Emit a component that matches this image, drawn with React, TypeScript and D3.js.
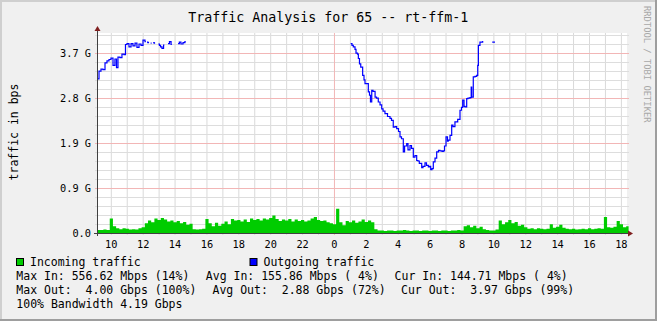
import React from "react";
import * as d3 from "d3";

// ---------- data ----------
const TITLE = "Traffic Analysis for 65 -- rt-ffm-1";
const Y_LABEL = "traffic in bps";
const WATERMARK = "RRDTOOL / TOBI OETIKER";

// time axis in hours since midnight of day 1 (24 = next midnight)
const T_START = 9.134;
const T_END = 42.384;
const Y_MAX = 4.138; // Gbps at top of canvas
const Y_TICK_STEP = 0.9311; // 4.19 G / 4.5
const HOUR_LINES = d3.range(10, 43);
const HOUR_LABELS = [10, 12, 14, 16, 18, 20, 22, 24, 26, 28, 30, 32, 34, 36, 38, 40, 42];

// incoming traffic (Gbps), one value every IN_STEP hours starting at T_START
const IN_STEP = 0.2;
const inValues = [
  0.06, 0.06, 0.07, 0.06, 0.30, 0.14, 0.10, 0.08, 0.10, 0.09,
  0.07, 0.08, 0.07, 0.10, 0.12, 0.20, 0.26, 0.22, 0.30, 0.27,
  0.31, 0.28, 0.24, 0.26, 0.22, 0.25, 0.20, 0.23, 0.17, 0.19,
  0.08, 0.07, 0.08, 0.09, 0.29, 0.20, 0.14, 0.21, 0.15, 0.19,
  0.24, 0.18, 0.29, 0.26, 0.27, 0.24, 0.28, 0.23, 0.30, 0.27,
  0.29, 0.26, 0.30, 0.28, 0.31, 0.36, 0.29, 0.25, 0.28, 0.26,
  0.29, 0.24, 0.28, 0.25, 0.27, 0.24, 0.26, 0.30, 0.33, 0.27,
  0.25, 0.26, 0.22, 0.20, 0.18, 0.50, 0.22, 0.16, 0.25, 0.22,
  0.26, 0.21, 0.24, 0.28, 0.23, 0.26, 0.22, 0.08, 0.05, 0.05,
  0.04, 0.05, 0.05, 0.04, 0.05, 0.05, 0.06, 0.05, 0.04, 0.05,
  0.05, 0.04, 0.05, 0.05, 0.04, 0.05, 0.05, 0.04, 0.05, 0.05,
  0.04, 0.05, 0.05, 0.06, 0.05, 0.14, 0.16, 0.12, 0.15, 0.10,
  0.13, 0.08, 0.06, 0.05, 0.05, 0.07, 0.26, 0.18, 0.22, 0.27,
  0.20, 0.23, 0.15, 0.17, 0.12, 0.09, 0.10, 0.08, 0.10, 0.09,
  0.08, 0.09, 0.18, 0.11, 0.13, 0.17, 0.11, 0.09, 0.08, 0.09,
  0.07, 0.08, 0.09, 0.08, 0.10, 0.08, 0.09, 0.10, 0.09, 0.33,
  0.12, 0.11, 0.13, 0.25, 0.18, 0.12, 0.14,
];

// outgoing traffic (Gbps); null = no data
const outTimes = [
  9.178, 9.26, 9.385, 9.51, 9.636, 9.76, 9.887, 10.01, 10.138, 10.26,
  10.357, 10.45, 10.577, 10.7, 10.83, 10.92, 11.016, 11.14, 11.27, 11.39,
  11.52, 11.64, 11.77, 11.895, 12.02, 12.145, 12.2, 12.23,
  12.27, 12.33, 12.4, 12.45,
  12.5, 12.56, 12.6,
  12.66, 12.72, 12.78, 12.85,
  12.98, 13.05, 13.12, 13.21, 13.31, 13.36, 13.45,
  13.59, 13.68, 13.78, 13.83, 13.95,
  14.22, 14.3, 14.4, 14.53, 14.65, 14.7, 14.8,
  25.05, 25.13, 25.213, 25.32, 25.383, 25.477, 25.53, 25.6, 25.68, 25.8,
  25.885, 25.947, 26.05, 26.155, 26.23, 26.29, 26.37, 26.45, 26.58, 26.67,
  26.78, 26.89, 26.995, 27.08, 27.2, 27.36, 27.515, 27.61, 27.72, 27.83,
  27.935, 28.05, 28.143, 28.237, 28.35, 28.43, 28.563, 28.645, 28.77, 28.865,
  28.978, 29.08, 29.19, 29.27, 29.354, 29.505, 29.586, 29.71, 29.805, 29.92,
  29.993, 30.068, 30.15, 30.232, 30.34, 30.445, 30.557, 30.65, 30.78, 30.86,
  30.935, 31.03, 31.122, 31.17, 31.28, 31.386, 31.467, 31.59, 31.763, 31.907,
  32.0, 32.076, 32.16, 32.22, 32.327, 32.41, 32.534, 32.61, 32.64, 32.74,
  32.85, 32.955, 33.02, 33.06, 33.16, 33.33, 33.5,
  33.93, 34.1,
];
const outValues = [
  3.19, 3.35, 3.39, 3.38, 3.52, 3.56, 3.59, 3.62, 3.47, 3.6,
  3.42, 3.64, 3.63, 3.7, 3.69, 3.9, 3.92, 3.85, 3.92, 3.87,
  3.93, 3.84, 3.91, 3.88, 3.99, 3.96, 3.96, null,
  3.95, 3.94, 3.94, null,
  3.93, 3.93, null,
  3.94, 3.93, 3.93, null,
  3.91, 3.88, 3.85, 3.82, 3.89, 3.89, null,
  3.92, 3.96, 3.9, 3.9, null,
  3.92, 3.95, 3.91, 3.94, 3.96, 3.96, null,
  3.92, 3.88, 3.85, 3.8, 3.72, 3.7, 3.61, 3.5, 3.43, 3.26,
  3.17, 3.09, 3.09, 2.92, 2.85, 2.71, 2.95, 2.93, 2.81, 2.79,
  2.71, 2.65, 2.57, 2.52, 2.47, 2.41, 2.37, 2.33, 2.19, 2.2,
  2.16, 2.1, 1.99, 1.95, 1.68, 1.8, 1.85, 1.72, 1.81, 1.75,
  1.57, 1.6, 1.5, 1.49, 1.44, 1.35, 1.38, 1.45, 1.4, 1.37,
  1.38, 1.31, 1.33, 1.47, 1.55, 1.68, 1.71, 1.7, 1.69, 1.7,
  1.8, 1.99, 1.9, 1.92, 2.02, 2.23, 2.2, 2.3, 2.35, 2.54,
  2.6, 2.75, 2.62, 2.61, 2.78, 2.79, 2.8, 3.02, 2.81, 3.23,
  3.24, 3.26, 3.47, 3.88, 3.95, 3.97, null,
  3.95, 3.95,
];

const LEGEND_SERIES = [
  { name: "Incoming traffic", color: "#00CC00" },
  { name: "Outgoing traffic", color: "#0000FF" },
];
const LEGEND_ROWS = [
  ["Max In: 556.62 Mbps (14%)", "Avg In: 155.86 Mbps ( 4%)", "Cur In: 144.71 Mbps ( 4%)"],
  ["Max Out:  4.00 Gbps (100%)", "Avg Out:  2.88 Gbps (72%)", "Cur Out:  3.97 Gbps (99%)"],
  ["100% Bandwidth 4.19 Gbps"],
];

// ---------- layout ----------
const W = 657;
const H = 321;
const X0 = 97;
const X1 = 627;
const YB = 233;
const YT = 33;
const MONO = "'DejaVu Sans Mono', monospace";

export default function App() {
  const x = d3.scaleLinear().domain([T_START, T_END]).range([X0, X1]);
  const y = d3.scaleLinear().domain([0, Y_MAX]).range([YB, YT]);

  const inData = inValues.map((v, i) => ({ t: T_START + i * IN_STEP, v }));
  inData.push({ t: T_START + inValues.length * IN_STEP - 0.05, v: inValues[inValues.length - 1] });
  const area = d3
    .area<{ t: number; v: number }>()
    .x((d) => x(d.t))
    .y0(y(0))
    .y1((d) => y(d.v))
    .curve(d3.curveStepAfter);

  const outData = outTimes.map((t, i) => ({ t, v: outValues[i] }));
  const line = d3
    .line<{ t: number; v: number | null }>()
    .defined((d) => d.v !== null)
    .x((d) => x(d.t))
    .y((d) => y(d.v as number))
    .curve(d3.curveStepAfter);

  const minorY = d3.range(1, 23).map((k) => k * (Y_TICK_STEP / 5)).filter((v) => v < Y_MAX);
  const majorY = d3.range(1, 5).map((k) => k * Y_TICK_STEP);
  const yLabels = d3.range(0, 5).map((k) => k * Y_TICK_STEP);

  const legendX = [[16.3, 205.8, 394.6], [16.3, 212.5, 401.0], [16.3]];
  const legendY = [279.5, 293.5, 307.5];

  return (
    <div style={{ position: "absolute", left: 0, top: 0 }}>
      <svg width={W} height={H} style={{ display: "block" }} fontFamily={MONO}>
        <rect x={0} y={0} width={W} height={H} fill="#F0F0F0" />
        {/* frame */}
        <rect x={0} y={0} width={W} height={2} fill="#CFCFCF" />
        <rect x={0} y={0} width={2} height={H} fill="#CFCFCF" />
        <rect x={W - 2} y={0} width={2} height={H} fill="#9E9E9E" />
        <rect x={0} y={H - 2} width={W} height={2} fill="#9E9E9E" />

        {/* canvas */}
        <rect x={X0} y={YT} width={X1 - X0} height={YB - YT} fill="#FFFFFF" />

        {/* minor grid */}
        {HOUR_LINES.filter((h) => h % 24 !== 0).map((h) => (
          <line key={"vh" + h} x1={x(h) + 0.5} x2={x(h) + 0.5} y1={YT} y2={YB + 2} stroke="#D9D9D9" strokeWidth={1} />
        ))}
        {minorY.map((v, i) => (
          <line key={"mh" + i} x1={X0 - 2} x2={X1 + 2} y1={Math.round(y(v)) + 0.5} y2={Math.round(y(v)) + 0.5} stroke="#DDDDDD" strokeWidth={1} />
        ))}
        {/* major grid */}
        {HOUR_LINES.filter((h) => h % 24 === 0).map((h) => (
          <line key={"Vh" + h} x1={x(h) + 0.5} x2={x(h) + 0.5} y1={YT} y2={YB + 2} stroke="#F2B6B6" strokeWidth={1} />
        ))}
        {majorY.map((v, i) => (
          <line key={"Mh" + i} x1={X0 - 2} x2={X1 + 2} y1={Math.round(y(v)) + 0.5} y2={Math.round(y(v)) + 0.5} stroke="#F2B6B6" strokeWidth={1} />
        ))}

        {/* data */}
        <path d={area(inData) || ""} fill="#00CC00" />
        <path d={line(outData) || ""} fill="none" stroke="#0000FF" strokeWidth={1.2} />

        {/* axes */}
        <line x1={X0 - 3} x2={X1 + 2} y1={YB + 0.5} y2={YB + 0.5} stroke="#404040" strokeWidth={1} />
        <line x1={X0 + 0.5} x2={X0 + 0.5} y1={YB + 3} y2={YT - 2} stroke="#404040" strokeWidth={1} />
        <path d={`M${X1 + 1},${YB - 2.5} L${X1 + 6},${YB + 0.5} L${X1 + 1},${YB + 3.5} Z`} fill="#7F1F1F" />
        <path d={`M${X0 - 2.5},${YT - 2} L${X0 + 0.5},${YT - 7} L${X0 + 3.5},${YT - 2} Z`} fill="#7F1F1F" />

        {/* axis labels */}
        {yLabels.map((v, i) => (
          <text key={"yl" + i} x={91} y={y(v) + 3.8} fontSize={10.3} textAnchor="end" fill="#000">
            {i === 0 ? "0.0" : `${v.toFixed(1)} G`}
          </text>
        ))}
        {HOUR_LABELS.map((h) => (
          <text key={"xl" + h} x={x(h) + 0.5} y={247.5} fontSize={10.3} textAnchor="middle" fill="#000">
            {String(h % 24)}
          </text>
        ))}

        {/* title, unit, watermark */}
        <text x={328.3} y={21.5} fontSize={13.3} textAnchor="middle" fill="#000">
          {TITLE}
        </text>
        <text transform="translate(18,132) rotate(-90)" fontSize={11.5} textAnchor="middle" fill="#000">
          {Y_LABEL}
        </text>
        <text transform="translate(644,6) rotate(90)" fontSize={8.8} fill="#A8A8A8">
          {WATERMARK}
        </text>

        {/* legend */}
        {LEGEND_SERIES.map((s, i) => {
          const bx = i === 0 ? 16.5 : 250;
          return (
            <g key={s.name}>
              <rect x={bx} y={258.5} width={7} height={7} fill={s.color} stroke="#000" strokeWidth={1} />
              <text x={bx + 13.5} y={265.5} fontSize={11.5} fill="#000">
                {s.name}
              </text>
            </g>
          );
        })}
        {LEGEND_ROWS.map((row, r) =>
          row.map((txt, c) => (
            <text key={r + "-" + c} x={legendX[r][c]} y={legendY[r]} fontSize={11.5} fill="#000" style={{ whiteSpace: "pre" }}>
              {txt}
            </text>
          ))
        )}
      </svg>
    </div>
  );
}
